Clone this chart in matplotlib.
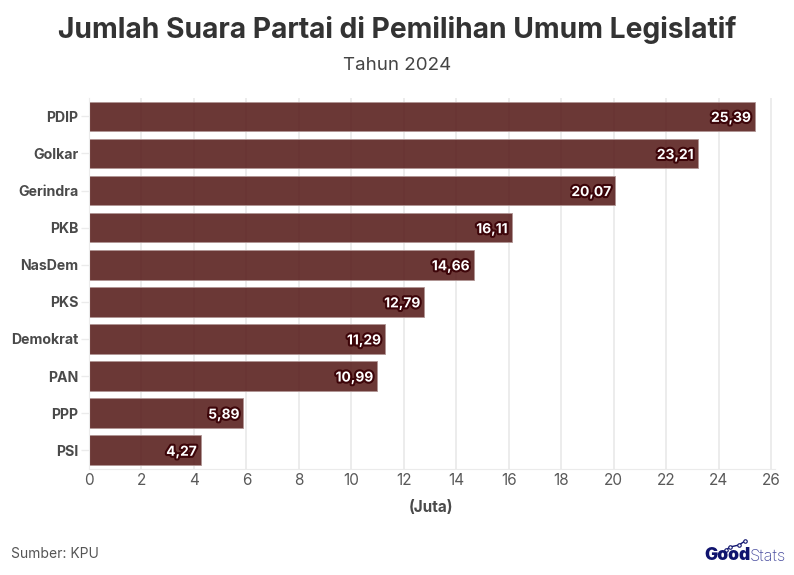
import matplotlib
matplotlib.use("Agg")
import matplotlib.pyplot as plt
import matplotlib.patheffects as pe
from matplotlib.lines import Line2D

parties = ["PDIP", "Golkar", "Gerindra", "PKB", "NasDem", "PKS", "Demokrat", "PAN", "PPP", "PSI"]
votes = [25.39, 23.21, 20.07, 16.11, 14.66, 12.79, 11.29, 10.99, 5.89, 4.27]
vote_labels = ["25,39", "23,21", "20,07", "16,11", "14,66", "12,79", "11,29", "10,99", "5,89", "4,27"]
xticks = list(range(0, 28, 2))

FONT = "Inter"
W, H = 794, 575
fig = plt.figure(figsize=(W / 100, H / 100), dpi=100, facecolor="white")
ax = fig.add_axes([89 / W, 1 - 468.8 / H, (775 - 89) / W, (468.8 - 97.8) / H])

y = list(range(len(parties)))
ax.set_axisbelow(True)
ax.grid(axis="x", color="#ebebeb", lw=1.3, zorder=0)
ax.barh(y, votes, height=0.8, color="#571c1a", alpha=0.88, edgecolor="#b09594", linewidth=0.7, zorder=2)

for yi, v, lab in zip(y, votes, vote_labels):
    ax.annotate(lab, (v, yi), xytext=(-3, 0), textcoords="offset points", ha="right", va="center_baseline",
                color="white", fontsize=9.9, fontweight="bold", family=FONT, zorder=4,
                path_effects=[pe.withStroke(linewidth=3.0, foreground="#3d0509")])

ax.set_ylim(len(parties) - 0.5, -0.5)
ax.set_xlim(0, 686 / 26.23)
ax.set_xticks(xticks)
ax.set_yticks(y)
ax.set_yticklabels(parties, fontsize=10.2, fontweight="bold", color="#4a4a4a", family=FONT)
ax.tick_params(axis="y", length=6, color="#ebebeb", width=1, pad=1.5)
ax.tick_params(axis="x", length=0, pad=3, labelsize=11, labelcolor="#595959")
for t in ax.get_xticklabels():
    t.set_family(FONT)
for s in ["top", "right"]:
    ax.spines[s].set_visible(False)
ax.spines["left"].set_color("#ebebeb")
ax.spines["bottom"].set_color("#ebebeb")

fig.text(397 / W, 1 - 30 / H, "Jumlah Suara Partai di Pemilihan Umum Legislatif", ha="center", va="center",
         fontsize=20.3, fontweight="bold", color="#333333", family=FONT)
fig.text(397 / W, 1 - 66 / H, "Tahun 2024", ha="center", va="center", fontsize=13.5, color="#444444", family=FONT)
fig.text(431 / W, 1 - 507 / H, "(Juta)", ha="center", va="center", fontsize=11, fontweight="bold", color="#4a4a4a", family=FONT)
fig.text(11 / W, 1 - 554 / H, "Sumber: KPU", ha="left", va="center", fontsize=10, color="#555555", family=FONT)

# GoodStats logo
fig.text(704 / W, 1 - 556 / H, "Good", ha="left", va="center", fontsize=12.6, fontweight="black", color="#10146e", family=FONT)
fig.text(750 / W, 1 - 556 / H, "Stats", ha="left", va="center", fontsize=11.8, fontweight="light", color="#4a4ea0", family=FONT)
px = [726, 730, 739, 745]
py = [550, 547, 545, 541]
fig.add_artist(Line2D([p / W for p in px], [1 - p / H for p in py], color="#10146e", lw=1,
                      marker="o", ms=2.5, mfc="white", mec="#10146e", mew=0.8))
fig.savefig("out.png", dpi=100)
